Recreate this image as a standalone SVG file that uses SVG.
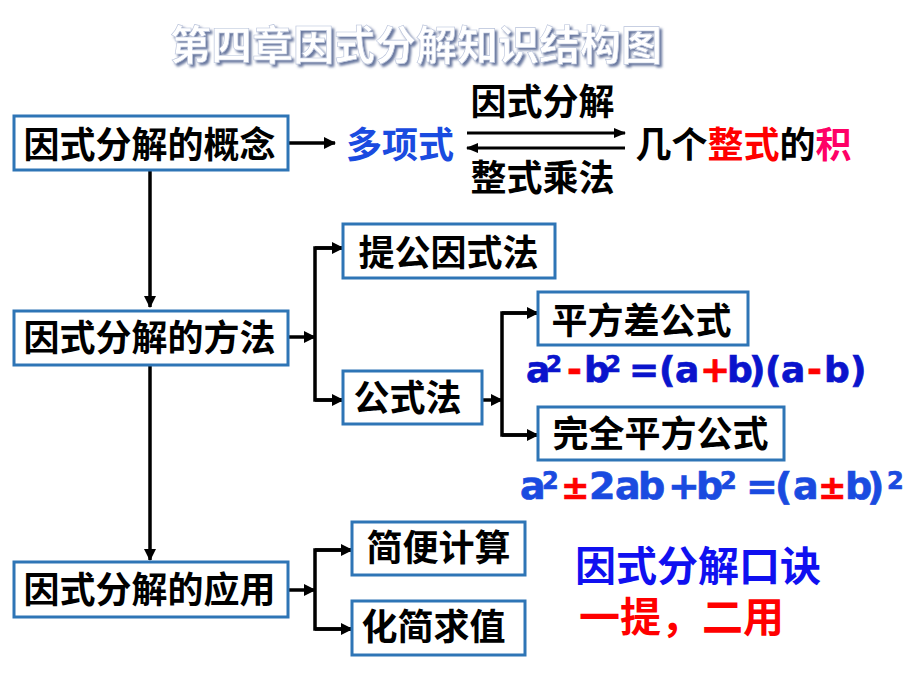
<svg xmlns="http://www.w3.org/2000/svg" width="920" height="690" viewBox="0 0 920 690">
<defs>
<marker id="ah" viewBox="0 0 12 12" refX="11" refY="6" markerWidth="12" markerHeight="12" markerUnits="userSpaceOnUse" orient="auto">
<path d="M0,0 L12,6 L0,12 Z" fill="#000"/>
</marker>
<marker id="ahs" viewBox="0 0 12 10" refX="11" refY="5" markerWidth="12" markerHeight="10" markerUnits="userSpaceOnUse" orient="auto">
<path d="M0,0 L12,5 L0,10 Z" fill="#000"/>
</marker>
<filter id="sh" x="-5%" y="-20%" width="110%" height="150%">
<feDropShadow dx="2.5" dy="2.5" stdDeviation="0.8" flood-color="#5A6A95" flood-opacity="0.9"/>
</filter>
</defs>
<style>
.box{fill:#fff;stroke:#2E75B6;stroke-width:3}
.cj{font-family:"Noto Sans CJK SC","Noto Sans CJK TC",sans-serif;font-weight:bold;font-size:36px;fill:#000}
.big{font-size:41px}
.ln{fill:none;stroke:#000;stroke-width:3.5}
.thin{fill:none;stroke:#000;stroke-width:3}
.f{font-family:"DejaVu Sans",sans-serif;font-weight:bold}
.f1{fill:#0A14CC;stroke:#0A14CC;stroke-width:0.7}
.f2{fill:#1A4BE0;stroke:#1A4BE0;stroke-width:0.7}
.r{fill:#FF0000;stroke:#FF0000}
</style>
<rect width="920" height="690" fill="#fff"/>

<g id="title">
<text class="cj big" x="170" y="60" style="fill:#fff" stroke="#B8C2DA" stroke-width="0.6" filter="url(#sh)">第四章因式分解知识结构图</text>
</g>

<g id="connectors">
<line class="ln" x1="288" y1="143" x2="335" y2="143" marker-end="url(#ah)"/>
<line class="thin" x1="467" y1="133" x2="625" y2="133" marker-end="url(#ahs)"/>
<line class="thin" x1="625" y1="148" x2="467" y2="148" marker-end="url(#ahs)"/>
<line class="ln" x1="150" y1="170" x2="150" y2="307" marker-end="url(#ah)"/>
<line class="ln" x1="150" y1="365" x2="150" y2="560" marker-end="url(#ah)"/>
<line class="ln" x1="288" y1="337" x2="315" y2="337" marker-end="url(#ah)"/>
<polyline class="ln" points="343,248 315,248 315,400 343,400"/>
<line class="ln" x1="315" y1="248" x2="343" y2="248" marker-end="url(#ah)"/>
<line class="ln" x1="315" y1="400" x2="343" y2="400" marker-end="url(#ah)"/>
<line class="ln" x1="482" y1="400" x2="502" y2="400" marker-end="url(#ah)"/>
<polyline class="ln" points="538,313 502,313 502,435 538,435"/>
<line class="ln" x1="502" y1="313" x2="538" y2="313" marker-end="url(#ah)"/>
<line class="ln" x1="502" y1="435" x2="538" y2="435" marker-end="url(#ah)"/>
<line class="ln" x1="288" y1="590" x2="315" y2="590" marker-end="url(#ah)"/>
<polyline class="ln" points="352,550 315,550 315,629 352,629"/>
<line class="ln" x1="315" y1="550" x2="352" y2="550" marker-end="url(#ah)"/>
<line class="ln" x1="315" y1="629" x2="352" y2="629" marker-end="url(#ah)"/>
</g>

<g id="concept">
<rect class="box" x="14" y="116" width="274" height="54"/>
<text class="cj" x="23.5" y="158">因式分解的概念</text>
</g>

<g id="polynomial">
<text class="cj" x="346" y="157.5" style="fill:#1A4BE0">多项式</text>
</g>

<g id="label-factor">
<text class="cj" x="470.5" y="115">因式分解</text>
</g>
<g id="label-mult">
<text class="cj" x="470.5" y="191">整式乘法</text>
</g>

<g id="product">
<text class="cj" x="635.5" y="158">几个<tspan style="fill:#FF0000">整式</tspan>的<tspan style="fill:#FF0066">积</tspan></text>
</g>

<g id="method">
<rect class="box" x="14" y="311" width="274" height="54"/>
<text class="cj" x="23.5" y="351">因式分解的方法</text>
</g>

<g id="common-factor">
<rect class="box" x="343" y="224" width="212" height="54"/>
<text class="cj" x="358.5" y="265.5">提公因式法</text>
</g>

<g id="formula-method">
<rect class="box" x="343" y="371" width="139" height="53"/>
<text class="cj" x="353.5" y="411">公式法</text>
</g>

<g id="diff-squares">
<rect class="box" x="538" y="292" width="210" height="53"/>
<text class="cj" x="551.5" y="334">平方差公式</text>
</g>

<g id="formula1">
<text class="f f1" y="382" font-size="36"><tspan x="526">a</tspan><tspan x="546" y="372" font-size="23">2</tspan><tspan x="567" y="382" class="r" font-size="36">-</tspan><tspan x="584">b</tspan><tspan x="605" y="372" font-size="23">2</tspan><tspan x="629" y="382" font-size="36">=</tspan><tspan x="659">(</tspan><tspan x="675">a</tspan><tspan x="700" class="r">+</tspan><tspan x="727">b</tspan><tspan x="749">)</tspan><tspan x="765">(</tspan><tspan x="781">a</tspan><tspan x="807" class="r">-</tspan><tspan x="824">b</tspan><tspan x="850">)</tspan></text>
</g>

<g id="perfect-square">
<rect class="box" x="538" y="407" width="246" height="53"/>
<text class="cj" x="552.5" y="447">完全平方公式</text>
</g>

<g id="formula2">
<text class="f f2" y="499" font-size="38"><tspan x="520">a</tspan><tspan x="542" y="489" font-size="24">2</tspan><tspan x="561" y="499" class="r" font-size="34">±</tspan><tspan x="589" font-size="38">2</tspan><tspan x="615">a</tspan><tspan x="638">b</tspan><tspan x="668">+</tspan><tspan x="696">b</tspan><tspan x="720" y="489" font-size="24">2</tspan><tspan x="746" y="499" font-size="38">=</tspan><tspan x="775">(</tspan><tspan x="793">a</tspan><tspan x="818" class="r" font-size="34">±</tspan><tspan x="845" font-size="38">b</tspan><tspan x="867">)</tspan><tspan x="887" y="489" font-size="24">2</tspan></text>
</g>

<g id="application">
<rect class="box" x="14" y="562" width="274" height="55"/>
<text class="cj" x="23.5" y="603">因式分解的应用</text>
</g>

<g id="simplify-calc">
<rect class="box" x="352" y="522" width="173" height="53"/>
<text class="cj" x="366.5" y="561">简便计算</text>
</g>

<g id="simplify-eval">
<rect class="box" x="352" y="601" width="173" height="54"/>
<text class="cj" x="361.5" y="640">化简求值</text>
</g>

<g id="mnemonic">
<text class="cj big" x="575" y="581" style="fill:#1010F0">因式分解口诀</text>
<text class="cj big" x="579" y="632" style="fill:#FF0000">一提，二用</text>
</g>
</svg>
